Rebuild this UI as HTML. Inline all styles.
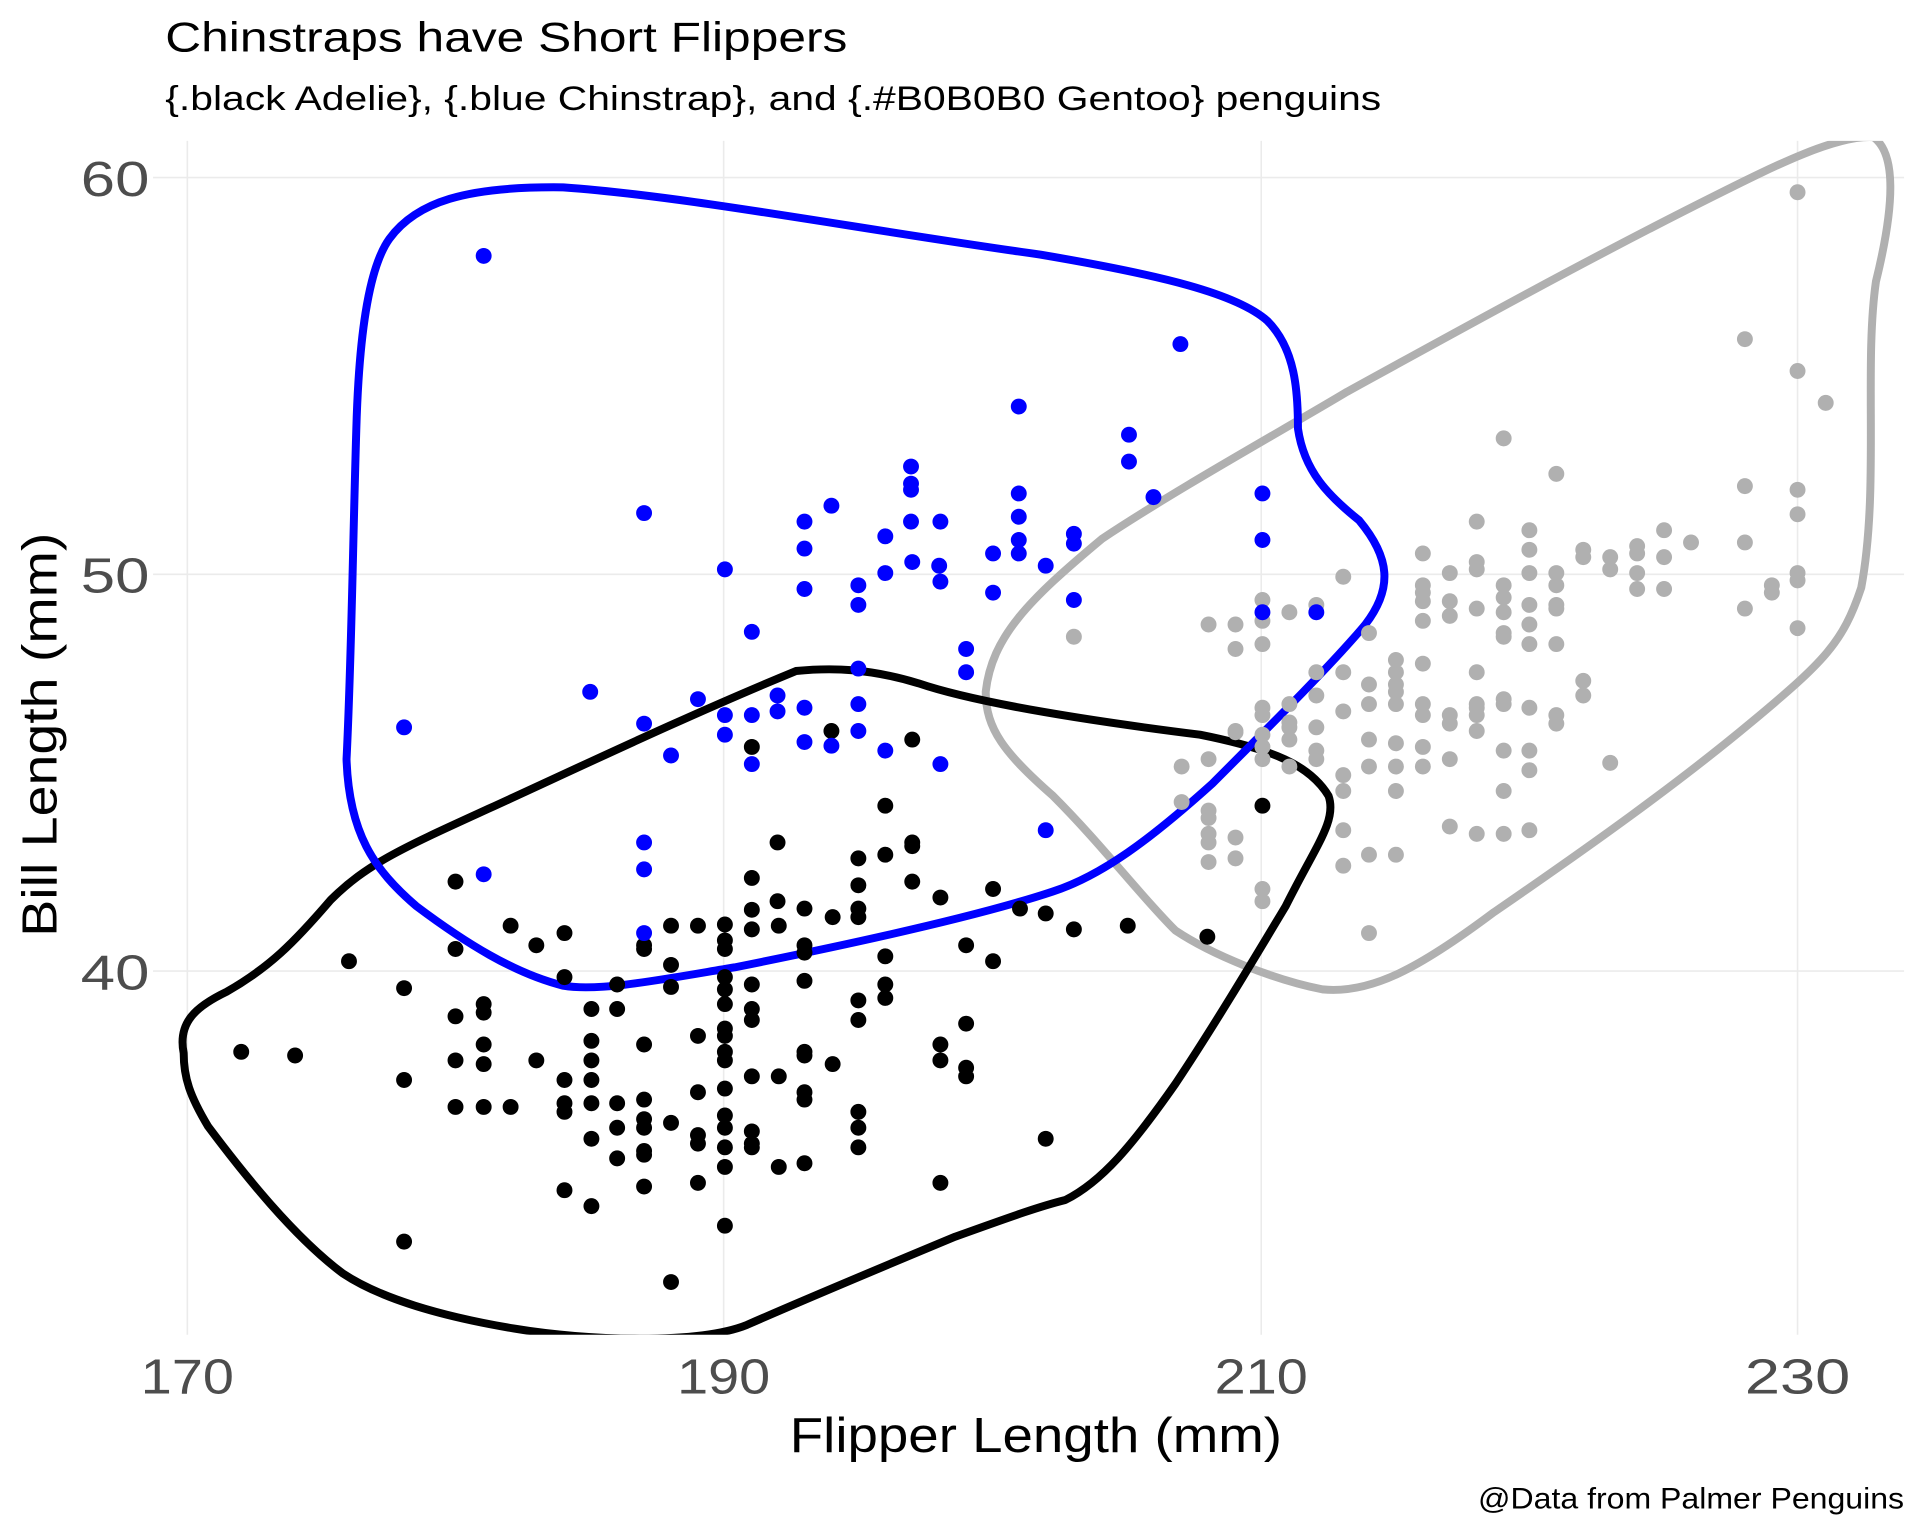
<!DOCTYPE html>
<html><head><meta charset="utf-8"><style>html,body{margin:0;padding:0;background:#fff}svg{display:block}text{font-family:"Liberation Sans Narrow","Liberation Sans",sans-serif}</style></head><body>
<svg width="1920" height="1536" viewBox="0 0 1568 1254.4" xmlns="http://www.w3.org/2000/svg">
<rect width="1568" height="1254.4" fill="#fff"/>
<g stroke="#ebebeb" stroke-width="1.3">
<line x1="153" y1="115" x2="153" y2="1090"/><line x1="591" y1="115" x2="591" y2="1090"/><line x1="1030" y1="115" x2="1030" y2="1090"/><line x1="1468" y1="115" x2="1468" y2="1090"/>
<line x1="125" y1="145" x2="1555" y2="145"/><line x1="125" y1="469" x2="1555" y2="469"/><line x1="125" y1="793" x2="1555" y2="793"/>
</g>
<defs><clipPath id="c"><rect x="120" y="115" width="1440" height="975"/></clipPath></defs>
<g clip-path="url(#c)" fill="none" stroke-width="6.5" stroke-linejoin="round">
<path stroke="#b0b0b0" d="M1530,112 C1548,125 1548,165 1532,230 C1522,300 1535,400 1520,480 C1505,525 1490,540 1430,590 C1370,640 1300,690 1220,745 C1160,790 1120,812 1080,808 C1040,800 990,780 960,760 C930,730 900,690 860,650 C820,615 805,595 805,565 C810,520 840,490 900,440 C960,400 1050,350 1100,320 C1200,265 1300,210 1400,160 C1450,135 1500,110 1530,112 Z"/>
<path stroke="#000" d="M150,860 C145,835 160,822 185,810 C220,790 240,770 270,735 C300,705 330,692 400,660 C470,628 560,585 650,548 C680,545 710,546 750,558 C800,575 900,590 980,600 C1040,612 1070,625 1085,650 C1092,670 1075,690 1050,740 C1020,790 990,840 960,885 C925,935 900,965 870,980 C850,985 830,992 780,1010 C720,1035 660,1060 610,1082 C570,1098 480,1095 420,1085 C360,1075 310,1060 280,1040 C240,1010 200,960 170,920 C155,895 150,880 150,860 Z"/>
<path stroke="#0000ff" d="M283,620 C287,540 288,450 291,350 C293,280 300,220 318,195 C340,165 380,152 460,153 C560,160 700,187 850,208 C950,225 1010,240 1035,262 C1058,285 1060,320 1060,350 C1065,385 1085,405 1110,425 C1135,455 1138,480 1115,510 C1090,540 1045,585 990,640 C940,685 900,715 860,728 C800,748 700,770 600,790 C540,800 490,810 460,805 C420,795 380,770 340,740 C305,710 285,680 283,620 Z"/>
</g>
<g fill="none" stroke-width="13" stroke-linecap="round">
<path stroke="#b0b0b0" d="M1468 157h0M1425 277h0M1468 303h0M1491 329h0M1228 358h0M1271 387h0M1425 397h0M1468 400h0M1162 452h0M1206 426h0M1249 433h0M1249 449h0M1359 433h0M1381 443h0M1425 443h0M1468 420h0M1337 446h0M1315 455h0M1315 465h0M1337 452h0M1359 455h0M1337 468h0M1337 481h0M1359 481h0M1293 449h0M1293 455h0M1271 468h0M1271 478h0M1206 465h0M1206 459h0M1184 468h0M1162 478h0M1162 484h0M1162 491h0M1184 491h0M1249 468h0M1228 478h0M1228 488h0M1097 471h0M1031 490h0M1009 510h0M1075 494h0M1053 500h0M1031 507h0M1031 526h0M1009 530h0M987 510h0M877 520h0M1206 497h0M1228 500h0M1249 494h0M1271 494h0M1249 510h0M1228 517h0M1228 520h0M1249 526h0M1271 526h0M1271 497h0M1425 497h0M1447 484h0M1447 478h0M1468 468h0M1468 474h0M1468 513h0M1184 503h0M1162 507h0M1118 517h0M1140 539h0M1140 549h0M1140 559h0M1140 565h0M1140 575h0M1118 559h0M1118 575h0M1162 542h0M1162 575h0M1162 584h0M1184 584h0M1184 591h0M1206 549h0M1206 578h0M1206 575h0M1228 575h0M1249 578h0M1271 591h0M1293 556h0M1293 568h0M1271 584h0M1097 549h0M1097 581h0M1075 549h0M1075 568h0M1075 594h0M1053 575h0M1053 594h0M1031 578h0M1031 584h0M1031 600h0M1031 610h0M1031 620h0M1053 604h0M1075 613h0M1075 620h0M1097 633h0M1009 597h0M987 620h0M965 626h0M1053 626h0M1097 646h0M1118 604h0M1118 626h0M1140 607h0M1140 626h0M1162 610h0M1162 626h0M1184 620h0M1206 584h0M1206 597h0M1228 571h0M1228 613h0M1228 646h0M1249 613h0M1249 629h0M1249 678h0M1184 675h0M1206 681h0M1228 681h0M1315 623h0M1140 646h0M1097 678h0M1097 707h0M1118 698h0M1140 698h0M987 662h0M987 668h0M987 681h0M987 688h0M1009 684h0M1009 701h0M987 704h0M965 655h0M1031 726h0M1031 736h0M1118 762h0M1009 598h0M1053 590h0"/>
<path stroke="#000" d="M1031 658h0M723 658h0M635 688h0M614 610h0M679 597h0M745 604h0M701 701h0M723 698h0M745 688h0M745 691h0M614 717h0M745 720h0M372 720h0M811 726h0M701 723h0M657 742h0M701 742h0M701 749h0M614 743h0M635 736h0M768 733h0M833 742h0M854 746h0M877 759h0M921 756h0M986 765h0M592 755h0M614 759h0M636 756h0M570 756h0M548 756h0M417 756h0M680 749h0M438 772h0M461 762h0M372 775h0M285 785h0M657 772h0M657 778h0M723 781h0M592 768h0M592 775h0M526 772h0M526 775h0M811 785h0M789 772h0M461 798h0M548 788h0M592 798h0M614 804h0M504 804h0M330 807h0M592 808h0M657 801h0M548 806h0M723 804h0M723 815h0M395 820h0M483 824h0M504 824h0M592 820h0M614 824h0M614 833h0M701 817h0M701 833h0M372 830h0M395 827h0M789 836h0M592 840h0M592 846h0M570 846h0M526 853h0M483 850h0M395 853h0M657 859h0M657 862h0M680 869h0M768 853h0M768 866h0M592 859h0M592 866h0M372 866h0M395 869h0M438 866h0M197 859h0M241 862h0M483 866h0M614 879h0M636 879h0M789 872h0M789 879h0M330 882h0M461 882h0M483 882h0M526 898h0M570 892h0M592 889h0M657 892h0M657 898h0M461 901h0M461 908h0M504 901h0M483 901h0M372 904h0M395 904h0M417 904h0M592 911h0M526 914h0M548 917h0M701 908h0M526 921h0M504 921h0M483 930h0M592 921h0M614 924h0M570 927h0M614 934h0M701 921h0M570 934h0M526 940h0M592 937h0M614 937h0M701 937h0M854 930h0M504 946h0M526 943h0M592 953h0M636 953h0M657 950h0M461 972h0M526 969h0M570 966h0M483 985h0M768 966h0M592 1001h0M330 1014h0M548 1047h0"/>
<path stroke="#0000ff" d="M395 209h0M964 281h0M832 332h0M922 355h0M922 377h0M744 381h0M744 395h0M744 400h0M942 406h0M832 403h0M1031 403h0M526 419h0M679 413h0M657 426h0M768 426h0M832 422h0M723 438h0M744 426h0M1031 441h0M877 436h0M877 444h0M657 448h0M832 441h0M832 452h0M854 462h0M767 462h0M745 459h0M723 468h0M592 465h0M811 452h0M768 475h0M657 481h0M701 478h0M701 494h0M811 484h0M877 490h0M1031 500h0M1075 500h0M614 516h0M789 530h0M789 549h0M701 546h0M482 565h0M570 571h0M635 568h0M657 578h0M701 575h0M592 584h0M614 584h0M635 581h0M526 591h0M330 594h0M548 617h0M592 600h0M657 606h0M679 609h0M701 597h0M723 613h0M614 624h0M768 624h0M854 678h0M526 688h0M395 714h0M526 710h0M526 762h0"/>
</g>
<text x="135" y="42" font-size="34" fill="#000" textLength="557" lengthAdjust="spacingAndGlyphs">Chinstraps have Short Flippers</text>
<text x="135" y="90" font-size="28" fill="#000" textLength="993" lengthAdjust="spacingAndGlyphs">{.black Adelie}, {.blue Chinstrap}, and {.#B0B0B0 Gentoo} penguins</text>
<g font-size="40" fill="#4d4d4d" text-anchor="end">
<text x="122" y="160" textLength="56" lengthAdjust="spacingAndGlyphs">60</text>
<text x="122" y="484" textLength="56" lengthAdjust="spacingAndGlyphs">50</text>
<text x="122" y="808" textLength="56" lengthAdjust="spacingAndGlyphs">40</text>
</g>
<g font-size="40" fill="#4d4d4d" text-anchor="middle">
<text x="153" y="1138" textLength="76" lengthAdjust="spacingAndGlyphs">170</text>
<text x="591" y="1138" textLength="76" lengthAdjust="spacingAndGlyphs">190</text>
<text x="1030" y="1138" textLength="76" lengthAdjust="spacingAndGlyphs">210</text>
<text x="1468" y="1138" textLength="86" lengthAdjust="spacingAndGlyphs">230</text>
</g>
<text x="846" y="1186" font-size="40" text-anchor="middle" textLength="402" lengthAdjust="spacingAndGlyphs">Flipper Length (mm)</text>
<text transform="translate(46,600) rotate(-90)" font-size="40" text-anchor="middle" textLength="330" lengthAdjust="spacingAndGlyphs">Bill Length (mm)</text>
<text x="1555" y="1232" font-size="24" text-anchor="end" textLength="348" lengthAdjust="spacingAndGlyphs">@Data from Palmer Penguins</text>
</svg>
</body></html>
